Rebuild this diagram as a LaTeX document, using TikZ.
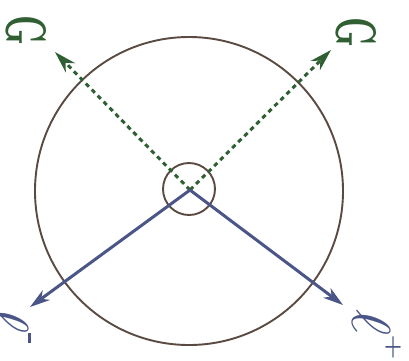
\documentclass[tikz,border=0pt]{standalone}
\usepackage{graphicx}
\usepackage{amsmath,amssymb,bm}
\usetikzlibrary{arrows.meta}
\definecolor{ringc}{HTML}{5A4A42}
\definecolor{fieldg}{HTML}{2F5F32}
\definecolor{vecb}{HTML}{4A5688}
\begin{document}
\begin{tikzpicture}[x=1pt,y=-1pt,
  ring/.style={draw=ringc,line width=1.9pt},
  gvec/.style={draw=fieldg,line width=3pt,dash pattern=on 4.5pt off 4pt,-{Stealth[length=22pt,width=13pt,inset=7pt,fill=fieldg]}},
  bvec/.style={draw=vecb,line width=3pt,-{Stealth[length=20pt,width=12pt,inset=6pt,fill=vecb]}},
  glab/.style={text=fieldg,inner sep=0pt,rotate=-90},
  blab/.style={text=vecb,inner sep=0pt,rotate=-90},
  sgn/.style={text=vecb,inner sep=0pt}]
\useasboundingbox (0,0) rectangle (409,360);
\fill[white] (0,0) rectangle (409,360);
\node[ring,circle,minimum size=308pt,inner sep=0pt] (big) at (189,191) {};
\node[ring,circle,minimum size=52pt,inner sep=0pt] (small) at (189,189) {};
\coordinate (o) at (190,190);
\coordinate (gl) at (55,52);
\coordinate (gr) at (331,50);
\coordinate (bl) at (30,307);
\coordinate (br) at (343,305);
\draw[gvec] (o) -- (gl);
\draw[gvec] (o) -- (gr);
\draw[bvec] (o) -- (bl);
\draw[bvec] (o) -- (br);
\node[glab] (g1) at (26,30) {\resizebox{30pt}{40pt}{\textbf{G}}};
\node[glab] (g2) at (356,32) {\resizebox{30pt}{40pt}{\textbf{G}}};
\node[blab] (l1) at (10,320) {\resizebox{26pt}{38pt}{$\ell$}};
\node[blab] (l2) at (372,322) {\resizebox{26pt}{38pt}{$\ell$}};
\node[sgn] (m1) at (29,338) {\rule{3pt}{10pt}};
\node[sgn] (p1) at (393,347) {\resizebox{18pt}{18pt}{$\bm{+}$}};
\end{tikzpicture}
\end{document}
